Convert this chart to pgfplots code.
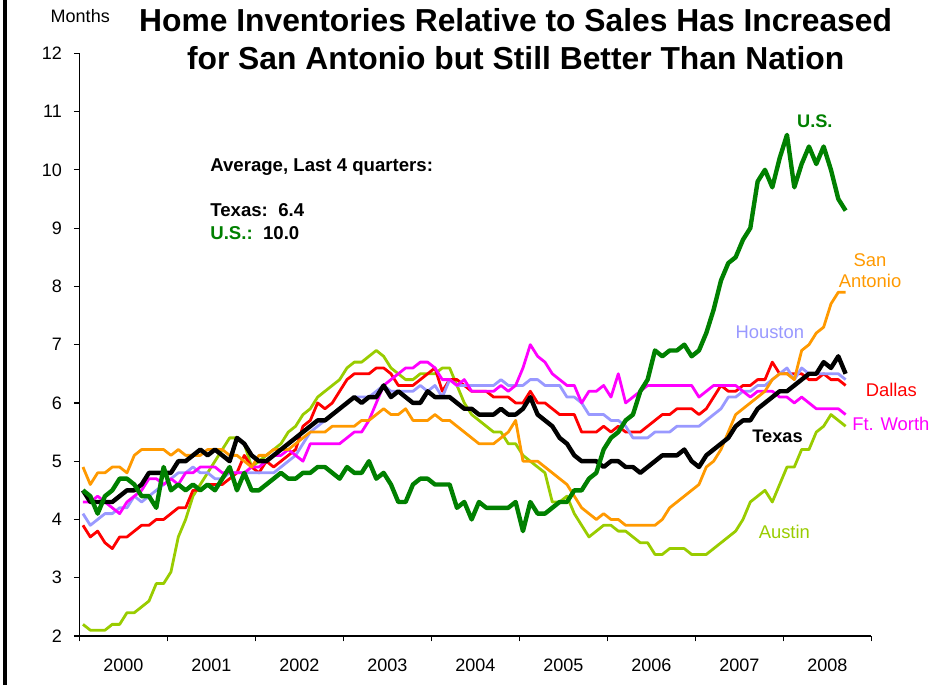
\documentclass[border=0pt]{standalone}
\usepackage{fontspec}
\setmainfont{Liberation Sans}
\usepackage{pgfplots}
\pgfplotsset{compat=1.18}
\usepackage{pgfplotstable}
\definecolor{usgreen}{RGB}{0,128,0}
\definecolor{saorange}{RGB}{255,153,0}
\definecolor{hoblue}{RGB}{153,153,255}
\definecolor{fwmag}{RGB}{255,0,255}
\definecolor{auyg}{RGB}{153,204,0}
\definecolor{dared}{RGB}{255,0,0}

\pgfplotstableread{
us tx sa da ho fw au
4.5 4.5 4.9 3.9 4.1 4.3 2.2
4.4 4.3 4.6 3.7 3.9 4.3 2.1
4.1 4.3 4.8 3.8 4.0 4.4 2.1
4.4 4.3 4.8 3.6 4.1 4.3 2.1
4.5 4.3 4.9 3.5 4.1 4.2 2.2
4.7 4.4 4.9 3.7 4.2 4.1 2.2
4.7 4.5 4.8 3.7 4.2 4.3 2.4
4.6 4.5 5.1 3.8 4.4 4.4 2.4
4.4 4.6 5.2 3.9 4.3 4.5 2.5
4.4 4.8 5.2 3.9 4.4 4.7 2.6
4.2 4.8 5.2 4.0 4.5 4.7 2.9
4.9 4.8 5.2 4.0 4.6 4.6 2.9
4.5 4.8 5.1 4.1 4.7 4.7 3.1
4.6 5.0 5.2 4.2 4.8 4.6 3.7
4.5 5.0 5.1 4.2 4.8 4.8 4.0
4.6 5.1 5.1 4.5 4.9 4.8 4.4
4.5 5.2 5.1 4.5 4.8 4.9 4.6
4.6 5.1 5.2 4.6 4.8 4.9 4.8
4.5 5.2 5.2 4.6 4.7 4.9 5.0
4.7 5.1 5.2 4.6 4.7 4.8 5.2
4.9 5.0 5.1 4.7 4.8 4.8 5.4
4.5 5.4 5.1 4.8 4.8 4.8 5.4
4.8 5.3 5.0 5.1 4.8 4.8 5.3
4.5 5.1 4.9 4.9 4.8 4.9 4.9
4.5 5.0 5.1 4.8 4.8 4.9 5.0
4.6 5.0 5.1 5.0 4.8 5.0 5.1
4.7 5.1 5.2 4.9 4.8 5.1 5.2
4.8 5.2 5.2 5.0 4.9 5.1 5.3
4.7 5.3 5.2 5.1 5.0 5.2 5.5
4.7 5.4 5.3 5.2 5.1 5.1 5.6
4.8 5.5 5.4 5.6 5.3 5.0 5.8
4.8 5.6 5.5 5.7 5.5 5.3 5.9
4.9 5.7 5.5 6.0 5.6 5.3 6.1
4.9 5.7 5.5 5.9 5.7 5.3 6.2
4.8 5.8 5.6 6.0 5.8 5.3 6.3
4.7 5.9 5.6 6.2 5.9 5.3 6.4
4.9 6.0 5.6 6.4 6.0 5.4 6.6
4.8 6.1 5.6 6.5 6.1 5.5 6.7
4.8 6.0 5.7 6.5 6.1 5.5 6.7
5.0 6.1 5.7 6.5 6.1 5.7 6.8
4.7 6.1 5.8 6.6 6.2 6.0 6.9
4.8 6.3 5.9 6.6 6.3 6.3 6.8
4.6 6.1 5.8 6.5 6.2 6.4 6.6
4.3 6.2 5.8 6.3 6.2 6.5 6.5
4.3 6.1 5.9 6.3 6.2 6.6 6.4
4.6 6.0 5.7 6.3 6.2 6.6 6.4
4.7 6.0 5.7 6.4 6.3 6.7 6.5
4.7 6.2 5.7 6.5 6.2 6.7 6.5
4.6 6.1 5.8 6.6 6.3 6.6 6.5
4.6 6.1 5.7 6.2 6.1 6.4 6.6
4.6 6.1 5.7 6.4 6.4 6.4 6.6
4.2 6.0 5.6 6.4 6.3 6.3 6.3
4.3 5.9 5.5 6.3 6.3 6.4 6.0
4.0 5.9 5.4 6.2 6.3 6.2 5.8
4.3 5.8 5.3 6.2 6.3 6.2 5.7
4.2 5.8 5.3 6.2 6.3 6.2 5.6
4.2 5.8 5.3 6.1 6.3 6.2 5.5
4.2 5.9 5.4 6.1 6.4 6.3 5.5
4.2 5.8 5.5 6.1 6.3 6.2 5.3
4.3 5.8 5.7 6.0 6.3 6.3 5.3
3.8 5.9 5.0 6.0 6.3 6.6 5.1
4.3 6.1 5.0 6.2 6.4 7.0 5.0
4.1 5.8 5.0 6.0 6.4 6.8 4.9
4.1 5.7 4.9 6.0 6.3 6.7 4.8
4.2 5.6 4.8 5.9 6.3 6.5 4.3
4.3 5.4 4.7 5.8 6.3 6.4 4.3
4.3 5.3 4.6 5.8 6.1 6.3 4.4
4.5 5.1 4.4 5.8 6.1 6.3 4.1
4.5 5.0 4.2 5.5 6.0 6.0 3.9
4.7 5.0 4.1 5.5 5.8 6.2 3.7
4.8 5.0 4.0 5.5 5.8 6.2 3.8
5.2 4.9 4.1 5.6 5.8 6.3 3.9
5.4 5.0 4.0 5.5 5.7 6.1 3.9
5.5 5.0 4.0 5.6 5.7 6.5 3.8
5.7 4.9 3.9 5.5 5.6 6.0 3.8
5.8 4.9 3.9 5.5 5.4 6.1 3.7
6.2 4.8 3.9 5.5 5.4 6.2 3.6
6.4 4.9 3.9 5.6 5.4 6.3 3.6
6.9 5.0 3.9 5.7 5.5 6.3 3.4
6.8 5.1 4.0 5.8 5.5 6.3 3.4
6.9 5.1 4.2 5.8 5.5 6.3 3.5
6.9 5.1 4.3 5.9 5.6 6.3 3.5
7.0 5.2 4.4 5.9 5.6 6.3 3.5
6.8 5.0 4.5 5.9 5.6 6.3 3.4
6.9 4.9 4.6 5.8 5.6 6.1 3.4
7.2 5.1 4.9 5.9 5.7 6.2 3.4
7.6 5.2 5.0 6.1 5.8 6.3 3.5
8.1 5.3 5.2 6.3 5.9 6.3 3.6
8.4 5.4 5.5 6.2 6.1 6.3 3.7
8.5 5.6 5.8 6.2 6.1 6.3 3.8
8.8 5.7 5.9 6.3 6.2 6.2 4.0
9.0 5.7 6.0 6.3 6.2 6.1 4.3
9.8 5.9 6.1 6.4 6.3 6.2 4.4
10.0 6.0 6.2 6.4 6.3 6.2 4.5
9.7 6.1 6.4 6.7 6.4 6.2 4.3
10.2 6.2 6.5 6.5 6.5 6.1 4.6
10.6 6.2 6.5 6.5 6.6 6.1 4.9
9.7 6.3 6.4 6.5 6.4 6.0 4.9
10.1 6.4 6.9 6.5 6.6 6.1 5.2
10.4 6.5 7.0 6.4 6.5 6.0 5.2
10.1 6.5 7.2 6.4 6.5 5.9 5.5
10.4 6.7 7.3 6.5 6.5 5.9 5.6
10.0 6.6 7.7 6.4 6.5 5.9 5.8
9.5 6.8 7.9 6.4 6.5 5.9 5.7
9.3 6.5 7.9 6.3 6.4 5.8 5.6
}\data

\begin{document}
\begin{tikzpicture}
\useasboundingbox (-39.65pt,-24.5pt) rectangle (435.85pt,318pt);
\draw[line width=1.8pt] (-37.1pt,-24.5pt) -- (-37.1pt,318pt);
\begin{axis}[
  at={(0pt,0pt)}, anchor=south west,
  scale only axis, width=396pt, height=291.35pt,
  xmin=0, xmax=108, ymin=2, ymax=12,
  axis lines*=left,
  axis line style={line width=0.6pt, black},
  tick align=outside,
  xtick={0,12,...,108},
  xticklabels={2000,2001,2002,2003,2004,2005,2006,2007,2008,},
  xticklabel style={xshift=22pt, yshift=-5pt},
  ytick={2,3,...,12},
  yticklabel style={xshift=-2.5pt},
  major tick length=2.7pt,
  tick style={black, line width=0.6pt},
  ticklabel style={font=\fontsize{9}{10}\selectfont},
  /pgf/number format/assume math mode=true,
  clip=false,
  every axis plot/.append style={line join=round, no markers},
]
\addplot[auyg, line width=1.4pt] table[x expr=\coordindex+0.5, y=au] {\data};
\addplot[dared, line width=1.4pt] table[x expr=\coordindex+0.5, y=da] {\data};
\addplot[hoblue, line width=1.4pt] table[x expr=\coordindex+0.5, y=ho] {\data};
\addplot[fwmag, line width=1.4pt] table[x expr=\coordindex+0.5, y=fw] {\data};
\addplot[saorange, line width=1.4pt] table[x expr=\coordindex+0.5, y=sa] {\data};
\addplot[black, line width=2.2pt] table[x expr=\coordindex+0.5, y=tx] {\data};
\addplot[usgreen, line width=2.2pt] table[x expr=\coordindex+0.5, y=us] {\data};

% title and annotations
\node[align=center, font=\fontsize{15.9}{19}\selectfont\bfseries] at (axis cs:59.5,12.245)
  {Home Inventories Relative to Sales Has Increased\\for San Antonio but Still Better Than Nation};
\node[font=\fontsize{9}{10}\selectfont] at (axis cs:0.13,12.64) {Months};
\node[anchor=base west, inner sep=0pt, font=\fontsize{9.3}{10}\selectfont\bfseries] at (axis cs:17.82,9.97) {Average, Last 4 quarters:};
\node[anchor=base west, inner sep=0pt, font=\fontsize{9.3}{10}\selectfont\bfseries] at (axis cs:17.82,9.196) {Texas:\ \ 6.4};
\node[anchor=base west, inner sep=0pt, font=\fontsize{9.3}{10}\selectfont\bfseries] at (axis cs:17.82,8.808) {\textcolor{usgreen}{U.S.:}\ \ 10.0};

\node[anchor=base, inner sep=0pt, font=\fontsize{9.1}{10}\selectfont\bfseries, text=usgreen] at (axis cs:100.3,10.73) {U.S.};
\node[anchor=base, inner sep=0pt, font=\fontsize{9.2}{10}\selectfont, text=saorange] at (axis cs:107.83,8.338) {San};
\node[anchor=base, inner sep=0pt, font=\fontsize{9.2}{10}\selectfont, text=saorange] at (axis cs:107.83,7.977) {Antonio};
\node[anchor=base, inner sep=0pt, font=\fontsize{9.2}{10}\selectfont, text=hoblue] at (axis cs:94.16,7.109) {Houston};
\node[anchor=base, inner sep=0pt, font=\fontsize{9.2}{10}\selectfont, text=dared] at (axis cs:110.73,6.107) {Dallas};
\node[anchor=base, inner sep=0pt, font=\fontsize{9.2}{10}\selectfont, text=fwmag] at (axis cs:110.67,5.523) {Ft. Worth};
\node[anchor=base, inner sep=0pt, font=\fontsize{9.1}{10}\selectfont\bfseries] at (axis cs:95.21,5.317) {Texas};
\node[anchor=base, inner sep=0pt, font=\fontsize{9.2}{10}\selectfont, text=auyg] at (axis cs:96.14,3.676) {Austin};
\end{axis}
\end{tikzpicture}
\end{document}
